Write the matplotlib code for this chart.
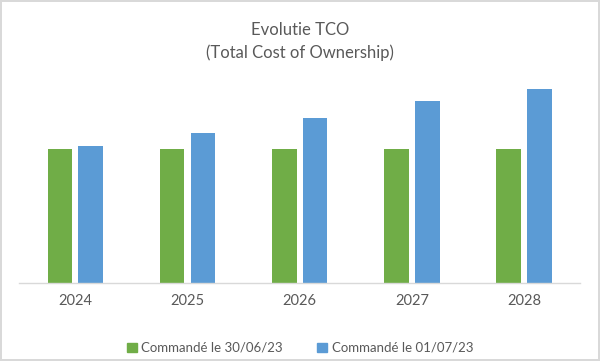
import matplotlib.pyplot as plt
import numpy as np
from matplotlib.patches import Rectangle

plt.rcParams['font.family'] = ['Lato', 'DejaVu Sans']

years = ['2024', '2025', '2026', '2027', '2028']
ordered_before = [134, 134, 134, 134, 134]
ordered_after = [137, 150, 165, 182, 194]
labels = ['Commandé le 30/06/23', 'Commandé le 01/07/23']

green = '#70AD47'
blue = '#5B9BD5'
text_col = '#595959'

fig = plt.figure(figsize=(6, 3.61), dpi=100)
fig.patch.set_edgecolor('#D9D9D9')
fig.patch.set_linewidth(1.5)

ax = fig.add_axes([0.032, (361 - 283) / 361, 0.935, (283 - 70) / 361])
x = np.arange(len(years))
w = 0.22
gap = 0.055
ax.bar(x - (w + gap) / 2, ordered_before, w, color=green, label=labels[0])
ax.bar(x + (w + gap) / 2, ordered_after, w, color=blue, label=labels[1])

ax.set_xlim(-0.5, len(years) - 0.5)
ax.set_ylim(0, 213)
ax.set_yticks([])
ax.set_xticks(x)
ax.set_xticklabels(years, color=text_col, fontsize=10.5)
ax.tick_params(axis='x', length=0, pad=8)
for s in ['top', 'right', 'left']:
    ax.spines[s].set_visible(False)
ax.spines['bottom'].set_color('#D9D9D9')
ax.spines['bottom'].set_linewidth(1)

fig.text(0.5, 1 - 30 / 361, 'Evolutie TCO', ha='center', va='center',
         fontsize=12, color=text_col)
fig.text(0.5, 1 - 53 / 361, '(Total Cost of Ownership)', ha='center', va='center',
         fontsize=12, color=text_col)

handles = [Rectangle((0, 0), 1, 1, color=green), Rectangle((0, 0), 1, 1, color=blue)]
fig.legend(handles, labels, loc='center', bbox_to_anchor=(0.5, 1 - 348 / 361),
           ncol=2, frameon=False, fontsize=9.5, handlelength=0.75, handleheight=0.75,
           handletextpad=0.35, columnspacing=2.6, labelcolor=text_col)

fig.savefig('out.png', dpi=100, edgecolor=fig.get_edgecolor())
